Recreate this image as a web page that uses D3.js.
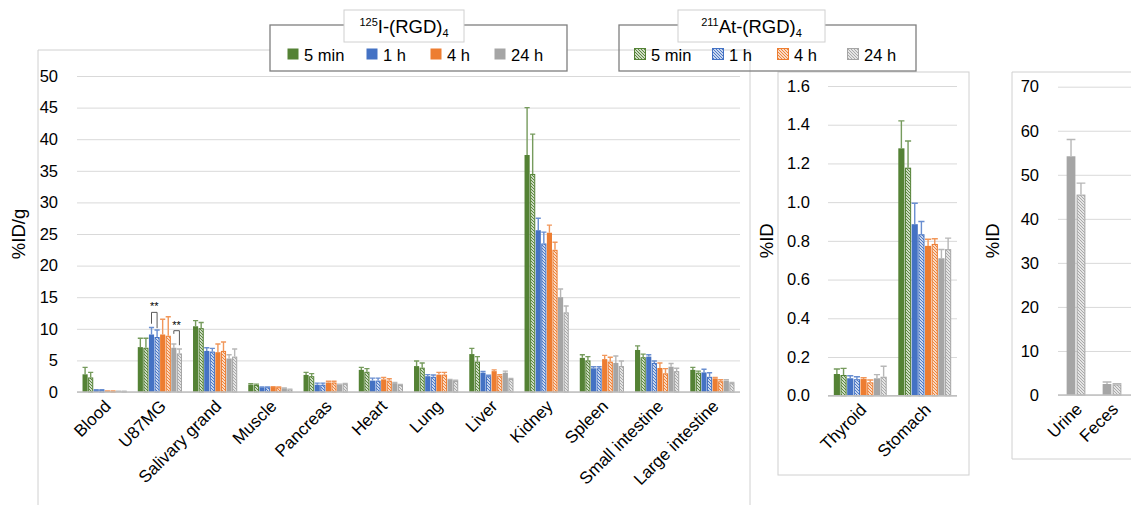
<!DOCTYPE html>
<html>
<head>
<meta charset="utf-8">
<script src="https://cdn.jsdelivr.net/npm/d3@7"></script>
<style>
body { margin: 0; background: #fff; }
svg text { font-family: "Liberation Sans", Arial, sans-serif; fill: #000; }
</style>
</head>
<body>
<script>
// categories
var organs = ["Blood", "U87MG", "Salivary grand", "Muscle", "Pancreas", "Heart", "Lung", "Liver", "Kidney", "Spleen", "Small intestine", "Large intestine"];
var smallOrgans = ["Thyroid", "Stomach"];
var excreta = ["Urine", "Feces"];
var times = ["5 min", "1 h", "4 h", "24 h"];

// main panel, %ID/g
var i125_5min = [2.8, 7.1, 10.4, 1.15, 2.7, 3.5, 4.1, 6.0, 37.5, 5.4, 6.65, 3.5];
var i125_5min_err = [1.1, 1.4, 0.9, 0.15, 0.4, 0.4, 0.8, 0.9, 7.5, 0.5, 0.65, 0.4];
var at211_5min = [2.3, 7.0, 10.1, 1.1, 2.5, 3.2, 3.85, 4.8, 34.5, 5.0, 5.5, 3.05];
var at211_5min_err = [0.8, 1.5, 0.9, 0.15, 0.4, 0.5, 0.75, 0.8, 6.3, 0.6, 0.5, 0.25];
var i125_1h = [0.3, 9.1, 6.5, 0.75, 1.15, 1.8, 2.5, 3.05, 25.6, 3.75, 5.6, 3.1];
var i125_1h_err = [0.05, 1.1, 0.5, 0.05, 0.25, 0.4, 0.25, 0.2, 1.9, 0.25, 0.3, 0.5];
var at211_1h = [0.3, 8.7, 6.4, 0.75, 1.15, 1.8, 2.4, 2.5, 23.5, 3.75, 4.6, 2.4];
var at211_1h_err = [0.05, 1.1, 0.5, 0.05, 0.25, 0.4, 0.3, 0.15, 1.8, 0.25, 0.3, 0.65];
var i125_4h = [0.15, 9.1, 6.3, 0.8, 1.5, 2.0, 2.75, 3.3, 25.2, 5.2, 3.8, 2.15];
var i125_4h_err = [0.03, 2.4, 1.3, 0.05, 0.2, 0.3, 0.35, 0.2, 1.2, 0.6, 0.8, 0.15];
var at211_4h = [0.15, 8.9, 6.5, 0.75, 1.5, 1.8, 2.75, 2.6, 22.5, 4.8, 2.95, 1.7];
var at211_4h_err = [0.03, 3.0, 1.4, 0.05, 0.2, 0.3, 0.35, 0.15, 1.2, 0.7, 0.75, 0.25];
var i125_24h = [0.1, 7.0, 5.3, 0.6, 1.2, 1.4, 1.9, 3.05, 15.0, 4.6, 4.0, 1.8];
var i125_24h_err = [0.02, 0.6, 0.6, 0.05, 0.05, 0.1, 0.1, 0.25, 1.3, 1.1, 0.5, 0.15];
var at211_24h = [0.1, 6.1, 5.6, 0.4, 1.3, 1.1, 1.75, 2.05, 12.6, 4.1, 3.3, 1.4];
var at211_24h_err = [0.02, 0.7, 1.2, 0.05, 0.05, 0.1, 0.1, 0.1, 1.0, 0.8, 0.45, 0.1];

// middle panel, %ID
var i125_5min_s = [0.112, 1.278], i125_5min_s_err = [0.026, 0.142];
var at211_5min_s = [0.107, 1.178], at211_5min_s_err = [0.034, 0.138];
var i125_1h_s = [0.090, 0.886], i125_1h_s_err = [0.013, 0.108];
var at211_1h_s = [0.085, 0.834], at211_1h_s_err = [0.013, 0.066];
var i125_4h_s = [0.086, 0.774], i125_4h_s_err = [0.007, 0.034];
var at211_4h_s = [0.069, 0.784], at211_4h_s_err = [0.012, 0.027];
var i125_24h_s = [0.090, 0.710], i125_24h_s_err = [0.019, 0.045];
var at211_24h_s = [0.098, 0.757], at211_24h_s_err = [0.054, 0.057];

// right panel, %ID (24 h only)
var i125_24h_ex = [54.2, 2.5], i125_24h_ex_err = [3.8, 0.45];
var at211_24h_ex = [45.5, 2.4], at211_24h_ex_err = [2.6, 0.15];

// tick labels
var mainTicks = [0, 5, 10, 15, 20, 25, 30, 35, 40, 45, 50];
var midTicks = [0, 0.2, 0.4, 0.6, 0.8, 1.0, 1.2, 1.4, 1.6];
var rightTicks = [0, 10, 20, 30, 40, 50, 60, 70];

var colors = ["#548235", "#4472c4", "#ed7d31", "#a5a5a5"];

var svg = d3.select("body").append("svg")
	.attr("width", 1131)
	.attr("height", 505);

var defs = svg.append("defs");
colors.forEach(function(c, i) {
	var p = defs.append("pattern")
		.attr("id", "hatch" + i)
		.attr("patternUnits", "userSpaceOnUse")
		.attr("width", 3)
		.attr("height", 3);
	p.append("rect").attr("width", 3).attr("height", 3).attr("fill", "#fff");
	p.append("path")
		.attr("d", "M-1,-1 l5,5 M-1,2 l2,2 M2,-1 l2,2")
		.attr("stroke", c)
		.attr("stroke-width", 1.1);
});

function lighter(c) {
	return d3.interpolateRgb(c, "#fff")(0.2);
}

//Panel frames
var frame = "#d0d0d0";
svg.append("path").attr("d", "M38,505 V50 H750 V505").attr("fill", "none").attr("stroke", frame);
svg.append("rect").attr("x", 778).attr("y", 72).attr("width", 191).attr("height", 403).attr("fill", "none").attr("stroke", frame);
svg.append("path").attr("d", "M1131,72 H1012 V459 H1131").attr("fill", "none").attr("stroke", frame);

function drawPanel(cfg) {
	var x0 = d3.scaleBand().domain(cfg.cats).range(cfg.xr);
	var bw = x0.bandwidth();
	var x1 = d3.scaleBand()
		.domain(cfg.series.map(function(s) { return s.key; }))
		.range([bw * cfg.groupPad, bw * (1 - cfg.groupPad)])
		.paddingInner(cfg.barPad);
	var y = d3.scaleLinear().domain(cfg.domain).range(cfg.yr);

	var g = svg.append("g");

	// gridlines
	g.append("g")
		.attr("transform", "translate(" + cfg.xr[0] + ",0)")
		.call(d3.axisLeft(y).tickValues(cfg.ticks).tickSize(-(cfg.gridEnd - cfg.xr[0])).tickFormat(""))
		.call(function(a) {
			a.select(".domain").remove();
			a.selectAll("line").attr("stroke", "#d9d9d9");
		});

	// tick labels
	g.append("g")
		.attr("transform", "translate(" + cfg.labelX + ",0)")
		.call(d3.axisLeft(y).tickValues(cfg.ticks).tickSize(0).tickPadding(0).tickFormat(cfg.fmt))
		.call(function(a) {
			a.select(".domain").remove();
			a.selectAll("text").attr("font-size", 16.5).attr("fill", "#000")
				.style("font-family", "'Liberation Sans', Arial, sans-serif");
		});

	// bars
	cfg.series.forEach(function(s) {
		var col = colors[s.c];
		var bars = g.append("g");
		bars.selectAll("rect")
			.data(s.vals)
			.enter()
			.append("rect")
			.attr("x", function(d, i) { return x0(cfg.cats[i]) + x1(s.key) + (s.hatch ? 0.5 : 0); })
			.attr("y", function(d) { return y(d) + (s.hatch ? 0.5 : 0); })
			.attr("width", x1.bandwidth() - (s.hatch ? 1 : 0))
			.attr("height", function(d) { return Math.max(0, y(0) - y(d) - (s.hatch ? 0.5 : 0)); })
			.attr("fill", s.hatch ? "url(#hatch" + s.c + ")" : col)
			.attr("stroke", s.hatch ? col : "none")
			.attr("stroke-width", 1);

		// error bars, upper side only
		var eb = g.append("g").attr("stroke", lighter(col)).attr("stroke-width", 1.4).attr("fill", "none");
		eb.selectAll("path")
			.data(s.vals)
			.enter()
			.append("path")
			.attr("d", function(d, i) {
				var cx = x0(cfg.cats[i]) + x1(s.key) + x1.bandwidth() / 2;
				var top = y(d + s.errs[i]);
				var hw = Math.max(2, x1.bandwidth() / 2);
				return "M" + cx + "," + y(d) + "V" + top + "M" + (cx - hw) + "," + top + "H" + (cx + hw);
			});
	});

	// baseline
	g.append("line")
		.attr("x1", cfg.xr[0]).attr("x2", cfg.gridEnd)
		.attr("y1", y(0)).attr("y2", y(0))
		.attr("stroke", "#bfbfbf").attr("stroke-width", 1.5);

	// category labels
	g.append("g")
		.attr("transform", "translate(0," + (y(0) + 10) + ")")
		.call(d3.axisBottom(x0).tickSize(0).tickPadding(0))
		.call(function(a) {
			a.select(".domain").remove();
			a.selectAll("text")
				.attr("font-size", 17)
				.attr("fill", "#000")
				.style("font-family", "'Liberation Sans', Arial, sans-serif")
				.attr("text-anchor", "end")
				.attr("dy", "0.35em")
				.attr("transform", "translate(3,1) rotate(-45)");
		});

	// axis title
	svg.append("text")
		.attr("transform", "translate(" + cfg.titleX + "," + ((cfg.yr[0] + cfg.yr[1]) / 2) + ") rotate(-90)")
		.attr("text-anchor", "middle")
		.attr("font-size", 18.5)
		.text(cfg.title);

	return { x0: x0, x1: x1, y: y };
}

var main = drawPanel({
	cats: organs,
	xr: [77, 740], gridEnd: 740,
	yr: [392, 76], domain: [0, 50],
	ticks: mainTicks, fmt: d3.format("d"),
	labelX: 58, titleX: 25, title: "%ID/g",
	groupPad: 0.1, barPad: 0.08,
	series: [
		{ key: "i5", c: 0, hatch: false, vals: i125_5min, errs: i125_5min_err },
		{ key: "a5", c: 0, hatch: true, vals: at211_5min, errs: at211_5min_err },
		{ key: "i1", c: 1, hatch: false, vals: i125_1h, errs: i125_1h_err },
		{ key: "a1", c: 1, hatch: true, vals: at211_1h, errs: at211_1h_err },
		{ key: "i4", c: 2, hatch: false, vals: i125_4h, errs: i125_4h_err },
		{ key: "a4", c: 2, hatch: true, vals: at211_4h, errs: at211_4h_err },
		{ key: "i24", c: 3, hatch: false, vals: i125_24h, errs: i125_24h_err },
		{ key: "a24", c: 3, hatch: true, vals: at211_24h, errs: at211_24h_err }
	]
});

drawPanel({
	cats: smallOrgans,
	xr: [828, 957], gridEnd: 957,
	yr: [395.7, 86], domain: [0, 1.6],
	ticks: midTicks, fmt: d3.format(".1f"),
	labelX: 810, titleX: 773, title: "%ID",
	groupPad: 0.09, barPad: 0.08,
	series: [
		{ key: "i5", c: 0, hatch: false, vals: i125_5min_s, errs: i125_5min_s_err },
		{ key: "a5", c: 0, hatch: true, vals: at211_5min_s, errs: at211_5min_s_err },
		{ key: "i1", c: 1, hatch: false, vals: i125_1h_s, errs: i125_1h_s_err },
		{ key: "a1", c: 1, hatch: true, vals: at211_1h_s, errs: at211_1h_s_err },
		{ key: "i4", c: 2, hatch: false, vals: i125_4h_s, errs: i125_4h_s_err },
		{ key: "a4", c: 2, hatch: true, vals: at211_4h_s, errs: at211_4h_s_err },
		{ key: "i24", c: 3, hatch: false, vals: i125_24h_s, errs: i125_24h_s_err },
		{ key: "a24", c: 3, hatch: true, vals: at211_24h_s, errs: at211_24h_s_err }
	]
});

drawPanel({
	cats: excreta,
	xr: [1058, 1130], gridEnd: 1131,
	yr: [395, 86.7], domain: [0, 70],
	ticks: rightTicks, fmt: d3.format("d"),
	labelX: 1039, titleX: 999, title: "%ID",
	groupPad: 0.24, barPad: 0.12,
	series: [
		{ key: "i24", c: 3, hatch: false, vals: i125_24h_ex, errs: i125_24h_ex_err },
		{ key: "a24", c: 3, hatch: true, vals: at211_24h_ex, errs: at211_24h_ex_err }
	]
});

//Significance brackets in U87MG
function bracket(a, b, yTop, yA, yB) {
	var u = organs.indexOf("U87MG");
	var xa = main.x0(organs[u]) + main.x1(a) + main.x1.bandwidth() / 2;
	var xb = main.x0(organs[u]) + main.x1(b) + main.x1.bandwidth() / 2;
	svg.append("path")
		.attr("d", "M" + xa + "," + yA + "V" + yTop + "H" + xb + "V" + yB)
		.attr("fill", "none").attr("stroke", "#595959").attr("stroke-width", 1);
	svg.append("text")
		.attr("x", (xa + xb) / 2).attr("y", yTop - 2)
		.attr("text-anchor", "middle").attr("font-size", 11)
		.text("**");
}
var yM = main.y;
bracket("i1", "a1", yM(12.6), yM(i125_1h[1] + i125_1h_err[1] + 0.6), yM(at211_1h[1] + at211_1h_err[1] + 0.3));
bracket("i24", "a24", yM(9.7), yM(i125_24h[1] + i125_24h_err[1] + 1.6), yM(at211_24h[1] + at211_24h_err[1] + 0.6));

//Legends
function legend(x0, w, tx, tw, iso, hatch, itemX) {
	var lg = svg.append("g");
	lg.append("rect").attr("x", x0).attr("y", 25).attr("width", w).attr("height", 46)
		.attr("fill", hatch ? "none" : "#fff").attr("stroke", "#7f7f7f").attr("stroke-width", 1.3);
	lg.append("rect").attr("x", tx).attr("y", 10).attr("width", tw).attr("height", 32)
		.attr("fill", "#fff").attr("stroke", "#d0d0d0");
	var t = lg.append("text").attr("x", tx + tw / 2).attr("y", 33).attr("text-anchor", "middle").attr("font-size", 18.5);
	t.append("tspan").attr("font-size", 11).attr("dy", -7).text(iso[0]);
	t.append("tspan").attr("dy", 7).text(iso[1]);
	t.append("tspan").attr("font-size", 11).attr("dy", 4).text("4");

	var items = lg.selectAll("g.item")
		.data(times)
		.enter()
		.append("g")
		.attr("transform", function(d, i) { return "translate(" + itemX[i] + ",48)"; });
	items.append("rect")
		.attr("x", 0.5).attr("y", 0.5).attr("width", 11).attr("height", 11)
		.attr("fill", function(d, i) { return hatch ? "url(#hatch" + i + ")" : colors[i]; })
		.attr("stroke", function(d, i) { return hatch ? colors[i] : "none"; });
	items.append("text")
		.attr("x", 17).attr("y", 12.5)
		.attr("font-size", 16.5)
		.text(function(d) { return d; });
}
legend(270, 297, 344, 120, ["125", "I-(RGD)"], false, [287, 366, 430, 494]);
legend(619, 297, 678, 147, ["211", "At-(RGD)"], true, [634, 712, 777, 847]);
</script>
</body>
</html>
